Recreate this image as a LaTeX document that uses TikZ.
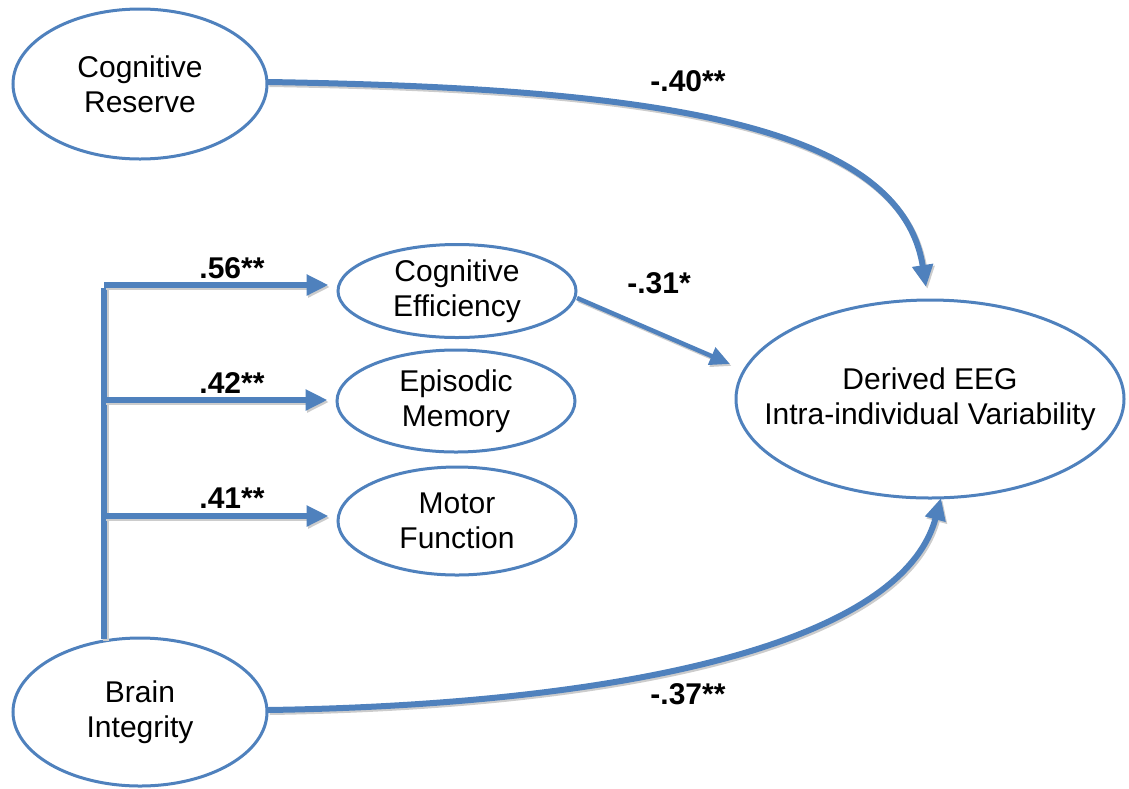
\documentclass[tikz,border=0pt]{standalone}
\usepackage{fontspec}
\setmainfont{Liberation Sans}
\usetikzlibrary{shapes.geometric,arrows.meta}
\definecolor{pathblue}{RGB}{79,129,189}
\tikzset{
  latent/.style={ellipse, draw=pathblue, line width=3pt, fill=white, inner sep=0pt, align=center,
    font=\fontsize{30}{35}\selectfont},
  path/.style={draw=pathblue, line width=6pt, -{Triangle[length=22pt,width=20pt]},
    preaction={draw=black!20, line width=6pt, transform canvas={shift={(1.5pt,-2pt)}}}},
  thinpath/.style={draw=pathblue, line width=4.5pt, -{Triangle[length=20pt,width=18pt]},
    preaction={draw=black!20, line width=4.5pt, transform canvas={shift={(1.5pt,-2pt)}}}},
  coef/.style={font=\bfseries\fontsize{30}{34}\selectfont, inner sep=0pt}
}
\begin{document}
\begin{tikzpicture}[x=1pt,y=-1pt]
\useasboundingbox (0,0) rectangle (1129,788);
% nodes
\node[latent, inner xsep=-30pt, minimum width=254pt, minimum height=150pt] (cr) at (140,84) {Cognitive\\Reserve};
\node[latent, inner xsep=-30pt, minimum width=254pt, minimum height=148pt] (bi) at (140,712) {Brain\\Integrity};
\node[latent, inner xsep=-30pt, inner ysep=-10pt, minimum width=238pt, minimum height=93pt] (ce) at (457,291) {Cognitive\\Efficiency};
\node[latent, inner xsep=-30pt, inner ysep=-10pt, minimum width=238pt, minimum height=102pt] (em) at (456,401) {Episodic\\Memory};
\node[latent, inner xsep=-30pt, inner ysep=-10pt, minimum width=238pt, minimum height=108pt] (mf) at (457,521) {Motor\\Function};
\node[latent, inner xsep=-35pt, minimum width=388pt, minimum height=198pt] (eeg) at (930,399) {Derived EEG\\Intra-individual Variability};
% junctions
\coordinate (j1) at (104,285);
\coordinate (j2) at (104,400);
\coordinate (j3) at (104,516);
\coordinate (jb) at (104,639);
% connectors
\draw[draw=pathblue, line width=6pt, preaction={draw=black!20, line width=6pt, transform canvas={shift={(1.5pt,-2pt)}}}] (jb) -- ([yshift=-3pt]j1);
\draw[path, shorten >=8pt] (j1) -- (j1 -| ce.west);
\draw[path, shorten >=8pt] (j2) -- (j2 -| em.west);
\draw[path, shorten >=8pt] (j3) -- (j3 -| mf.west);
\coordinate (crs) at (268,82);
\coordinate (crt) at (926,287);
\draw[path] (crs) .. controls (640,88) and (900,120) .. (crt);
\coordinate (ces) at (577,298);
\coordinate (cet) at (730,364);
\draw[thinpath] (ces) -- (cet);
\coordinate (bis) at (268,710);
\coordinate (bit) at (941,498);
\draw[path] (bis) .. controls (600,705) and (900,650) .. (bit);
% labels
\node[coef] (l56) at (232,268) {.56**};
\node[coef] (l42) at (232,383) {.42**};
\node[coef] (l41) at (232,498) {.41**};
\node[coef] (l40) at (688,81) {-.40**};
\node[coef] (l31) at (659,283) {-.31*};
\node[coef] (l37) at (688,694) {-.37**};
\end{tikzpicture}
\end{document}
